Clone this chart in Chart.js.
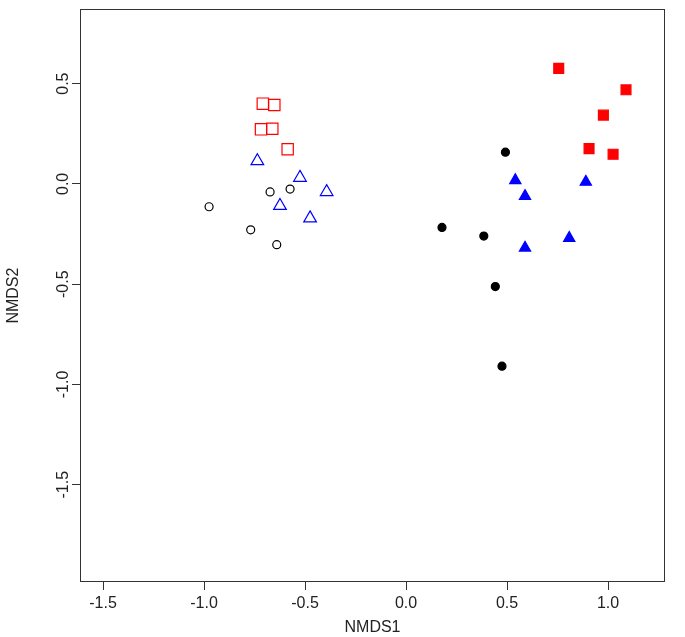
<!DOCTYPE html>
<html lang="en">
<head>
  <meta charset="UTF-8" />
  <title>NMDS ordination</title>
  <script src="https://cdn.jsdelivr.net/npm/chart.js"></script>
  <style>
    body {
      margin: 0;
      background: #ffffff;
    }
    #wrap {
      width: 685px;
      height: 637px;
    }
  </style>
</head>
<body>
  <div id="wrap"><canvas id="nmds" width="685" height="637"></canvas></div>
  <script>
    // site scores
    const openCircleX = [-0.975, -0.769, -0.673, -0.574, -0.640];
    const openCircleY = [-0.114, -0.229, -0.040, -0.026, -0.303];
    const openTriX = [-0.736, -0.525, -0.393, -0.624, -0.475];
    const openTriY = [0.114, 0.031, -0.040, -0.109, -0.171];
    const openSquareX = [-0.709, -0.652, -0.718, -0.662, -0.586];
    const openSquareY = [0.400, 0.393, 0.272, 0.275, 0.173];
    const fillCircleX = [0.492, 0.178, 0.385, 0.442, 0.475];
    const fillCircleY = [0.158, -0.217, -0.260, -0.512, -0.909];
    const fillTriX = [0.541, 0.589, 0.890, 0.808, 0.589];
    const fillTriY = [0.018, -0.061, 0.010, -0.270, -0.319];
    const fillSquareX = [0.756, 1.089, 0.977, 0.906, 1.025];
    const fillSquareY = [0.576, 0.469, 0.343, 0.176, 0.148];

    const xTicks = [-1.5, -1.0, -0.5, 0.0, 0.5, 1.0];
    const yTicks = [-1.5, -1.0, -0.5, 0.0, 0.5];
    const xLimits = [-1.614, 1.282];
    const yLimits = [-1.985, 0.871];

    const pts = (xs, ys) => xs.map((x, i) => ({ x: x, y: ys[i] }));

    function series(xs, ys, style, color, filled, radius) {
      return {
        data: pts(xs, ys),
        pointStyle: style,
        pointRadius: radius,
        pointHoverRadius: radius,
        borderColor: color,
        borderWidth: 1.2,
        backgroundColor: filled ? color : 'rgba(0,0,0,0)',
      };
    }

    // box round the plot region, like R's box()
    const frame = {
      id: 'frame',
      afterDraw(chart) {
        const a = chart.chartArea;
        const c = chart.ctx;
        c.save();
        c.strokeStyle = '#333';
        c.lineWidth = 1;
        c.strokeRect(Math.round(a.left) + 0.5, Math.round(a.top) + 0.5,
          Math.round(a.right - a.left) - 1, Math.round(a.bottom - a.top) - 1);
        c.restore();
      }
    };

    const font = { family: 'Liberation Sans, Arial, sans-serif', size: 16 };

    new Chart(document.getElementById('nmds'), {
      type: 'scatter',
      data: {
        datasets: [
          series(openCircleX, openCircleY, 'circle', '#000000', false, 4),
          series(openTriX, openTriY, 'triangle', '#0000ff', false, 7.3),
          series(openSquareX, openSquareY, 'rect', '#ff0000', false, 8),
          series(fillCircleX, fillCircleY, 'circle', '#000000', true, 4),
          series(fillTriX, fillTriY, 'triangle', '#0000ff', true, 6.5),
          series(fillSquareX, fillSquareY, 'rect', '#ff0000', true, 7),
        ]
      },
      options: {
        responsive: false,
        animation: false,
        layout: { padding: { left: 0, right: 20, top: 8, bottom: 0 } },
        plugins: {
          legend: { display: false },
          tooltip: { enabled: false }
        },
        scales: {
          x: {
            type: 'linear',
            min: xLimits[0],
            max: xLimits[1],
            afterBuildTicks: s => { s.ticks = xTicks.map(v => ({ value: v })); },
            afterFit: s => { s.height = 55; },
            border: { display: false },
            grid: { drawOnChartArea: false, drawTicks: true, tickLength: 8, color: '#333' },
            ticks: { font: font, color: '#222', padding: 4, maxRotation: 0, callback: v => v.toFixed(1) },
            title: { display: true, text: 'NMDS1', font: font, color: '#222', padding: { top: 0, bottom: 0 } }
          },
          y: {
            type: 'linear',
            min: yLimits[0],
            max: yLimits[1],
            afterBuildTicks: s => { s.ticks = yTicks.map(v => ({ value: v })); },
            afterFit: s => { s.width = 80; },
            border: { display: false },
            grid: { drawOnChartArea: false, drawTicks: true, tickLength: 8, color: '#333' },
            ticks: { font: font, color: '#222', padding: -5, minRotation: 90, maxRotation: 90, crossAlign: 'center', callback: v => v.toFixed(1) },
            title: { display: true, text: 'NMDS2', font: font, color: '#222', padding: { top: 4, bottom: 0 } }
          }
        }
      },
      plugins: [frame]
    });
  </script>
</body>
</html>
